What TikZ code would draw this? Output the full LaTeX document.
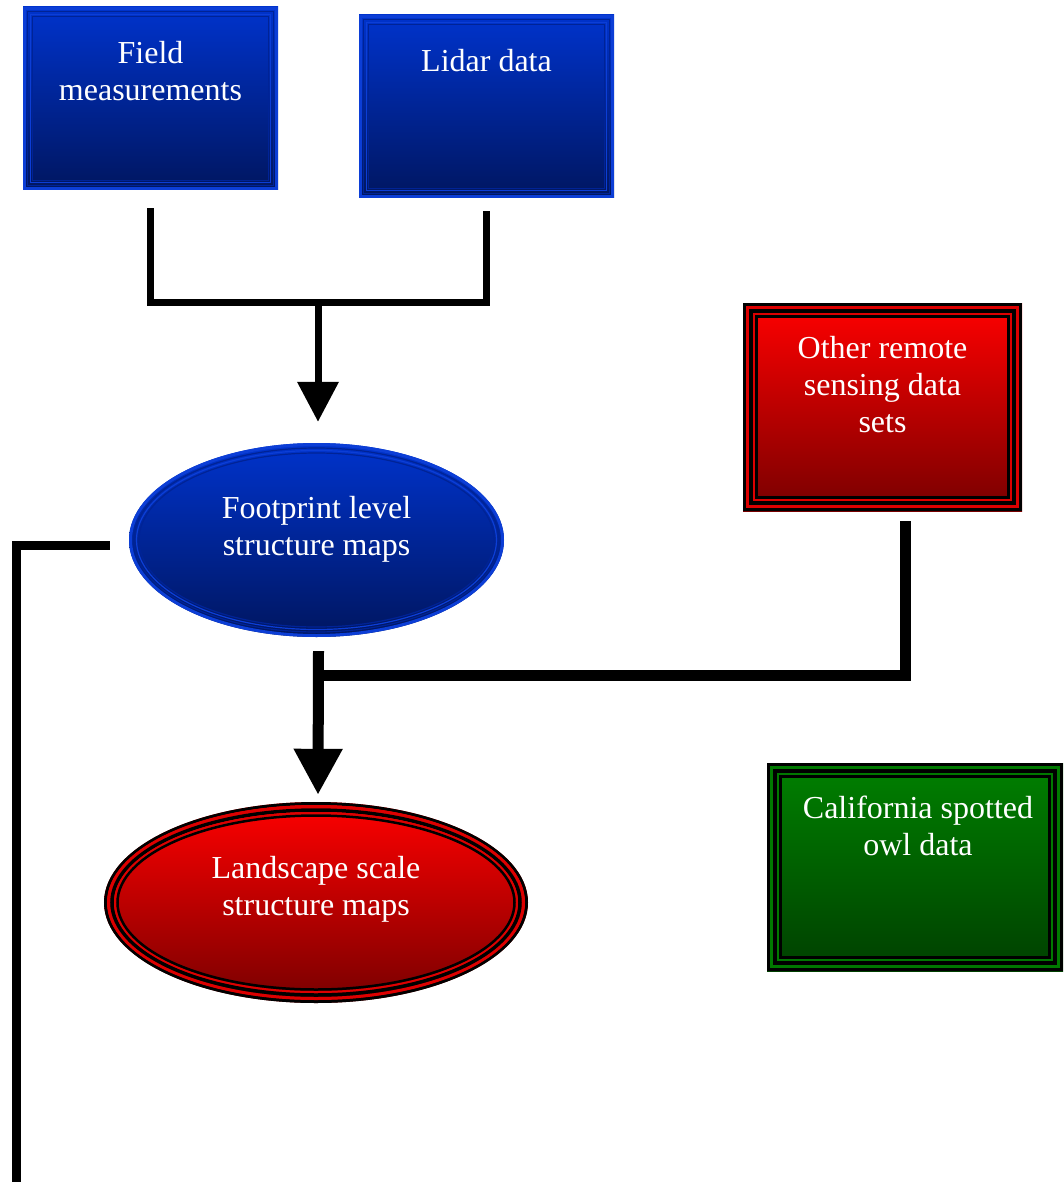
\documentclass[tikz,border=0pt]{standalone}
\usepackage{fontspec}
\setmainfont{Liberation Serif}
\usetikzlibrary{arrows.meta,shapes.geometric}
\definecolor{bluetop}{RGB}{0,51,204}
\definecolor{bluebot}{RGB}{0,22,96}
\definecolor{blueedge}{RGB}{12,62,214}
\definecolor{bluemid}{RGB}{0,35,150}
\definecolor{redtop}{RGB}{255,0,0}
\definecolor{redbot}{RGB}{120,0,0}
\definecolor{redline}{RGB}{220,0,0}
\definecolor{greentop}{RGB}{0,128,0}
\definecolor{greenbot}{RGB}{0,64,0}
\definecolor{greenline}{RGB}{0,120,0}
\newcommand\insetrect[3]{\draw[#1] ([xshift=#3pt,yshift=-#3pt]#2.north west) rectangle ([xshift=-#3pt,yshift=#3pt]#2.south east);}
\newcommand\insetell[5]{\draw[#1] (#2.center) ellipse [x radius=#3pt-#5pt, y radius=#4pt-#5pt];}
\tikzset{
  bluebox/.style={rectangle, top color=bluetop, bottom color=bluebot, inner sep=0pt, minimum width=255pt, minimum height=183pt},
  redbox/.style={rectangle, top color=redtop, bottom color=redbot, inner sep=0pt, minimum width=279pt, minimum height=208pt},
  greenbox/.style={rectangle, top color=greentop, bottom color=greenbot, inner sep=0pt, minimum width=296pt, minimum height=208pt},
  blueell/.style={ellipse, top color=bluetop, bottom color=bluebot, inner sep=0pt, minimum width=375pt, minimum height=194pt},
  redell/.style={ellipse, top color=redtop, bottom color=redbot, inner sep=0pt, minimum width=424pt, minimum height=201pt},
  txt/.style={text=white, align=center, font=\fontsize{32}{37}\selectfont, inner sep=0pt, anchor=north},
  connA/.style={line width=7pt},
  connB/.style={line width=11pt},
  connC/.style={line width=9pt},
  arrA/.style={line width=7pt, -{Triangle[width=40pt,length=40pt]}},
  arrB/.style={line width=11pt, -{Triangle[width=46pt,length=46pt]}},
}
\begin{document}
\begin{tikzpicture}[x=1pt,y=-1pt]
\useasboundingbox (0,0) rectangle (1063,1182);

% Field measurements
\node[bluebox] (field) at (150.5,98.5) {};
\insetrect{draw=blueedge,line width=3pt}{field}{1.5}
\insetrect{draw=bluemid,line width=1.2pt}{field}{5}
\insetrect{draw=blueedge,line width=1.2pt}{field}{7.5}
\insetrect{draw=bluemid,line width=1.2pt}{field}{10}
\node[txt] (fieldt) at (150.5,41) {Field\\measurements};

% Lidar data
\node[bluebox] (lidar) at (486.5,106.5) {};
\insetrect{draw=blueedge,line width=3pt}{lidar}{1.5}
\insetrect{draw=bluemid,line width=1.2pt}{lidar}{5}
\insetrect{draw=blueedge,line width=1.2pt}{lidar}{7.5}
\insetrect{draw=bluemid,line width=1.2pt}{lidar}{10}
\node[txt] (lidart) at (486.5,49) {Lidar data};

% Other remote sensing data sets
\node[redbox] (other) at (882.5,407) {};
\insetrect{draw=black,line width=3pt}{other}{1.5}
\insetrect{draw=redline,line width=3pt}{other}{4.5}
\insetrect{draw=black,line width=4pt}{other}{8}
\insetrect{draw=redline,line width=2pt}{other}{11}
\insetrect{draw=black,line width=3pt}{other}{13.5}
\node[txt] (othert) at (882.5,336) {Other remote\\sensing data\\sets};

% Footprint level structure maps
\node[blueell] (foot) at (316.5,540) {};
\insetell{draw=blueedge,line width=3pt}{foot}{187.5}{97}{1.5}
\insetell{draw=bluemid,line width=1.2pt}{foot}{187.5}{97}{5}
\insetell{draw=blueedge,line width=1.2pt}{foot}{187.5}{97}{7.5}
\insetell{draw=bluemid,line width=1.2pt}{foot}{187.5}{97}{10}
\node[txt] (foott) at (316.5,496) {Footprint level\\structure maps};

% Landscape scale structure maps
\node[redell] (land) at (316,902.5) {};
\insetell{draw=black,line width=3pt}{land}{212}{100.5}{1.5}
\insetell{draw=redline,line width=3pt}{land}{212}{100.5}{4.5}
\insetell{draw=black,line width=3.5pt}{land}{212}{100.5}{8}
\insetell{draw=redline,line width=2pt}{land}{212}{100.5}{11}
\insetell{draw=black,line width=2.5pt}{land}{212}{100.5}{13.5}
\node[txt] (landt) at (316,856) {Landscape scale\\structure maps};

% California spotted owl data
\node[greenbox] (owl) at (915,867) {};
\insetrect{draw=black,line width=3pt}{owl}{1.5}
\insetrect{draw=greenline,line width=3pt}{owl}{4.5}
\insetrect{draw=black,line width=4pt}{owl}{8}
\insetrect{draw=greenline,line width=2pt}{owl}{11}
\insetrect{draw=black,line width=3pt}{owl}{13.5}
\node[txt] (owlt) at (918,796) {California spotted\\owl data};

% Connectors: field + lidar -> footprint
\coordinate (fj) at (150.5,302.5);
\coordinate (lj) at (486.5,302.5);
\coordinate (mj) at (318,302.5);
\draw[connA] ([yshift=-18pt]field.south) -- (fj) -- (lj) -- ([yshift=-13pt]lidar.south);
\draw[arrA] (mj) -- ([xshift=1.5pt,yshift=21pt]foot.north);

% footprint + other -> landscape
\coordinate (oj) at (905,675);
\coordinate (sj) at (318,675);
\draw[connB] ([xshift=22.5pt,yshift=-10pt]other.south) -- (oj) -- (sj);
\draw[arrB] ([xshift=2pt,yshift=-14pt]foot.south) -- ([xshift=2pt,yshift=7pt]land.north);

% left line from footprint
\coordinate (lc) at (16,545.5);
\coordinate (lend) at (16,1195);
\draw[connC] ([xshift=-19pt,yshift=-5.5pt]foot.west) -- (lc) -- (lend);
\end{tikzpicture}
\end{document}
